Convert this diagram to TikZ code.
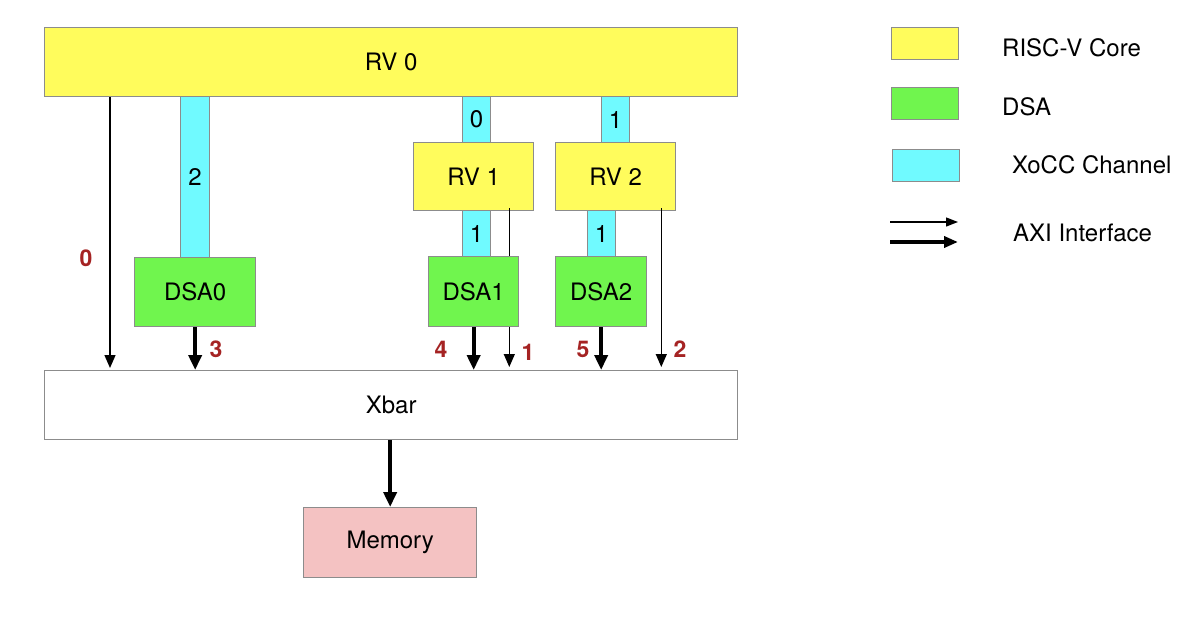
\documentclass[tikz,border=0pt]{standalone}
\usepackage{fontspec}
\setmainfont{TeX Gyre Heros}
\usetikzlibrary{positioning,arrows.meta}
\definecolor{coreyellow}{RGB}{255,252,92}
\definecolor{dsagreen}{RGB}{112,245,78}
\definecolor{chancyan}{RGB}{112,250,255}
\definecolor{mempink}{RGB}{244,194,194}
\definecolor{edgegray}{RGB}{140,140,140}
\definecolor{numred}{RGB}{165,35,35}

\begin{document}
\begin{tikzpicture}[
  x=1pt,y=-1pt,
  font=\fontsize{24}{28}\selectfont,
  blk/.style={rectangle,draw=edgegray,line width=1.3pt,inner sep=0pt,anchor=north west,align=center},
  core/.style={blk,fill=coreyellow},
  dsa/.style={blk,fill=dsagreen},
  chan/.style={blk,fill=chancyan},
  num/.style={text=numred,font=\fontsize{23}{26}\selectfont\bfseries},
  axi/.style={-{Triangle[length=13pt,width=11pt]},line width=1.3pt},
  axiw/.style={-{Triangle[length=15pt,width=13pt]},line width=4pt}]
\useasboundingbox[fill=white] (0,0) rectangle (1188,616);
% cores
\node[core,minimum width=693pt,minimum height=69pt] (rv0) at (44,27) {RV 0};
\node[core,minimum width=120pt,minimum height=68pt] (rv1) at (413,142) {RV 1};
\node[core,minimum width=120pt,minimum height=68pt] (rv2) at (555,142) {RV 2};
% interconnect and memory
\node[blk,fill=white,minimum width=693pt,minimum height=69pt] (xbar) at (44,370) {Xbar};
\node[blk,fill=mempink,minimum width=173pt,minimum height=70pt] (mem) at (303,507) {Memory};
% core AXI links (behind the DSAs)
\draw[axi] ([xshift=66pt]rv0.south west) -- ([xshift=66pt,yshift=2pt]xbar.north west);
\draw[axi] ([xshift=-25pt,yshift=3pt]rv1.south east) -- ([xshift=-25pt,yshift=3pt]rv1.south east |- xbar.north);
\draw[axi] ([xshift=-15pt,yshift=3pt]rv2.south east) -- ([xshift=-15pt,yshift=3pt]rv2.south east |- xbar.north);
% accelerators
\node[dsa,minimum width=121pt,minimum height=69pt] (dsa0) at (134,257) {DSA0};
\node[dsa,minimum width=90pt,minimum height=70pt] (dsa1) at (428,256) {DSA1};
\node[dsa,minimum width=91pt,minimum height=70pt] (dsa2) at (555,256) {DSA2};
% XoCC channels
\node[chan,minimum width=29pt,minimum height=161pt] (ch2) at (180,96) {2};
\node[chan,minimum width=28pt,minimum height=46pt] (ch0) at (462,96) {0};
\node[chan,minimum width=28pt,minimum height=46pt] (ch1a) at (462,210) {1};
\node[chan,minimum width=28pt,minimum height=46pt] (ch1b) at (601,96) {1};
\node[chan,minimum width=28pt,minimum height=46pt] (ch1c) at (587,210) {1};
% DSA AXI links
\draw[axiw] (dsa0.south) -- (dsa0.south |- xbar.north);
\draw[axiw] (dsa1.south) -- (dsa1.south |- xbar.north);
\draw[axiw] (dsa2.south) -- (dsa2.south |- xbar.north);
\draw[axiw] (xbar.south -| mem.north) -- (mem.north);
% port numbers
\node[num] (n0) at (86,258) {0};
\node[num] (n3) at (216,349) {3};
\node[num] (n4) at (441,349) {4};
\node[num] (n1) at (528,352) {1};
\node[num] (n5) at (583,349) {5};
\node[num] (n2) at (680,349) {2};
% legend
\node[core,minimum width=67pt,minimum height=32pt] (lgcore) at (891,27) {};
\node[dsa,minimum width=67pt,minimum height=32pt] (lgdsa) at (891,87) {};
\node[chan,minimum width=67pt,minimum height=32pt] (lgchan) at (892,149) {};
\node[anchor=west,inner sep=0pt] (tcore) at (1002,48) {RISC-V Core};
\node[anchor=west,inner sep=0pt] (tdsa) at (1002,107) {DSA};
\node[anchor=west,inner sep=0pt] (tchan) at (1012,165) {XoCC Channel};
\node[anchor=west,inner sep=0pt] (taxi) at (1013,233) {AXI Interface};
\coordinate (la1) at (890,222);
\coordinate (lb1) at (958,222);
\coordinate (la2) at (890,242);
\coordinate (lb2) at (958,242);
\draw[-{Triangle[length=12pt,width=9pt]},line width=1.3pt] (la1) -- (lb1);
\draw[-{Triangle[length=14pt,width=11pt]},line width=3.5pt] (la2) -- (lb2);
\end{tikzpicture}
\end{document}
